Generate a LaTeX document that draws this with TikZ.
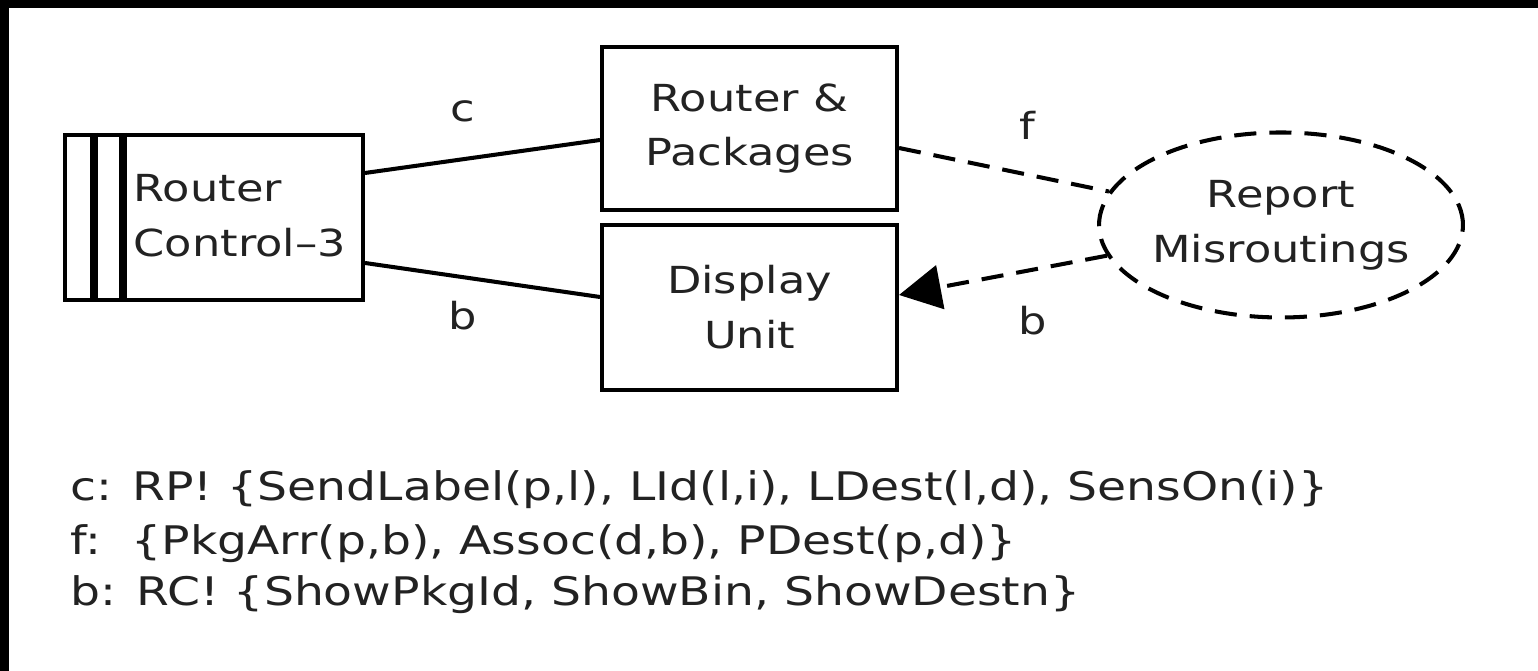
\documentclass[tikz,border=0pt]{standalone}
\usepackage{fontspec}
\setmainfont{DejaVu Sans}[FakeStretch=1.2]
\usetikzlibrary{shapes.geometric,arrows.meta}
\definecolor{ink}{RGB}{34,34,34}

\begin{document}
\begin{tikzpicture}[
  font=\fontsize{10.6}{15.6}\selectfont,
  box/.style={rectangle, draw, line width=1.15pt, minimum width=2.95cm, minimum height=1.64cm, align=center, text=ink},
  proc/.style={ellipse, draw, line width=1.15pt, dash pattern=on 6.3pt off 3.7pt, inner sep=0pt, minimum width=3.63cm, minimum height=1.85cm, align=center, text=ink},
  stripe/.style={line width=2.1pt},
  conn/.style={line width=1.15pt},
  flow/.style={line width=1.15pt, dash pattern=on 6.3pt off 3.7pt},
  lbl/.style={anchor=base, inner sep=0pt, text=ink},
  spec/.style={anchor=base west, inner sep=0pt, text=ink, font=\fontsize{11.2}{16.8}\selectfont}
]
\useasboundingbox (0,0) rectangle (15.38,-6.71);
% frame: white sheet, black edge at top and left
\fill[white] (-0.2,0.2) rectangle (15.6,-6.9);
\fill[black] (-0.2,0.2) rectangle (15.6,-0.08);
\fill[black] (-0.2,0.2) rectangle (0.09,-6.9);

% machine domain with stripes
\node[box, minimum width=2.98cm, minimum height=1.65cm] (rc) at (2.14,-2.175) {};
\draw[stripe] ([xshift=0.31cm]rc.north west) -- ([xshift=0.31cm]rc.south west);
\draw[stripe] ([xshift=0.60cm]rc.north west) -- ([xshift=0.60cm]rc.south west);
\node[anchor=west, inner sep=0pt, align=left, text=ink] (rctext) at (1.33,-2.155) {Router\\Control–3};

% given domains
\node[box, minimum height=1.63cm] (pkg) at (7.495,-1.285) {Router \&\\Packages};
\node[box, minimum height=1.65cm] (disp) at (7.495,-3.075) {Display\\Unit};

% requirement
\node[proc] (rep) at (12.81,-2.25) {Report\\Misroutings};

% interfaces
\draw[conn] ([yshift=0.445cm]rc.east) -- ([yshift=-0.115cm]pkg.west);
\draw[conn] ([yshift=-0.455cm]rc.east) -- ([yshift=0.105cm]disp.west);
\draw[flow] ([yshift=-0.195cm]pkg.east) -- (rep.169);
\draw[flow, -{Triangle[length=0.42cm, width=0.44cm]}] (rep.190) -- ([yshift=0.125cm]disp.east);

\node[lbl] (lc) at (4.63,-1.22) {c};
\node[lbl] (lb) at (4.63,-3.30) {b};
\node[lbl] (lf) at (10.27,-1.40) {f};
\node[lbl] (lb2) at (10.33,-3.35) {b};

% phenomena
\node[spec] (sc) at (0.70,-5.01) {c: RP! \{SendLabel(p,l), LId(l,i), LDest(l,d), SensOn(i)\}};
\node[spec] (sf) at (0.70,-5.55) {f:\ \ \{PkgArr(p,b), Assoc(d,b), PDest(p,d)\}};
\node[spec] (sb) at (0.70,-6.06) {b: RC! \{ShowPkgId, ShowBin, ShowDestn\}};
\end{tikzpicture}
\end{document}
